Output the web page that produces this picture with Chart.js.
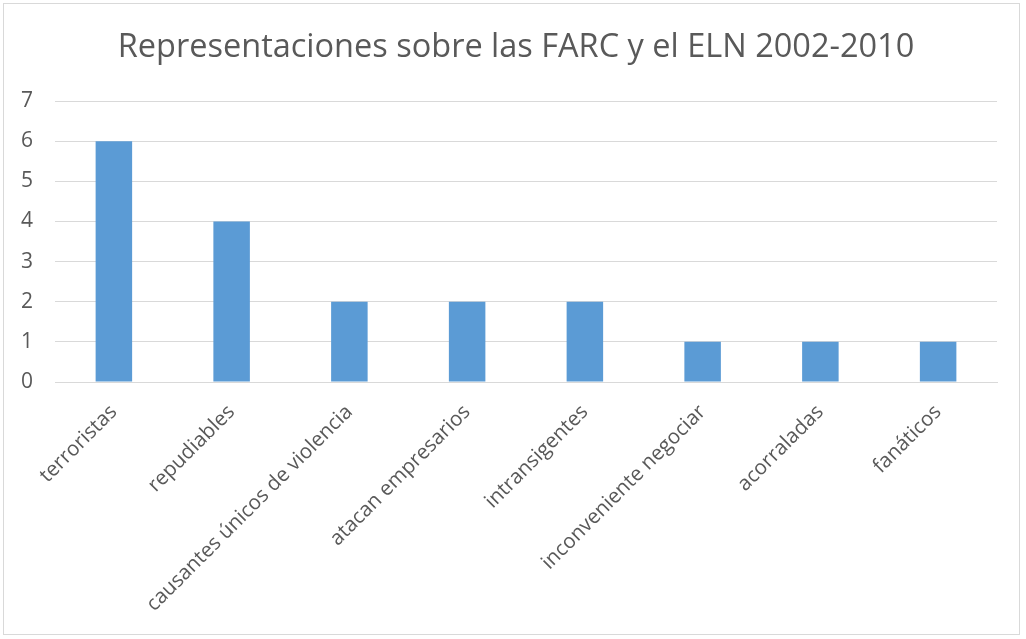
<!DOCTYPE html>
<html>
<head>
<meta charset="utf-8">
<script src="https://cdn.jsdelivr.net/npm/chart.js@4"></script>
<style>
  html, body { margin: 0; padding: 0; background: #fff; }
  #wrap { position: relative; width: 1026px; height: 639px; }
  #frame { position: absolute; left: 3px; top: 3px; width: 1017px; height: 632px; border: 1px solid #d9d9d9; box-sizing: border-box; pointer-events: none; }
  canvas { position: absolute; left: 0; top: 0; }
</style>
</head>
<body>
<div id="wrap">
  <canvas id="chart" width="1026" height="639"></canvas>
  <div id="frame"></div>
</div>
<script>
const categories = [
  'terroristas',
  'repudiables',
  'causantes únicos de violencia',
  'atacan empresarios',
  'intransigentes',
  'inconveniente negociar',
  'acorraladas',
  'fanáticos',
];
const counts = [6, 4, 2, 2, 2, 1, 1, 1];
const yTicks = [0, 1, 2, 3, 4, 5, 6, 7];

const textColor = '#595959';
const fontFamily = '"Open Sans", sans-serif';

const ctx = document.getElementById('chart').getContext('2d');

new Chart(ctx, {
  type: 'bar',
  data: {
    labels: categories,
    datasets: [
      {
        label: 'Representaciones',
        data: counts,
        backgroundColor: '#5b9bd5',
        borderWidth: 0,
        barPercentage: 0.31,
        categoryPercentage: 1,
      },
    ],
  },
  options: {
    responsive: false,
    animation: false,
    layout: {
      padding: { left: 35, right: 29, top: 0, bottom: 10 },
    },
    plugins: {
      legend: { display: false },
      tooltip: { enabled: false },
      title: {
        display: true,
        text: 'Representaciones sobre las FARC y el ELN 2002-2010',
        color: textColor,
        font: { family: fontFamily, size: 32.5, weight: 'normal' },
        padding: { top: 28, bottom: 34 },
      },
    },
    scales: {
      x: {
        grid: { display: false },
        border: { display: true, color: '#d9d9d9', width: 1 },
        ticks: {
          color: textColor,
          font: { family: fontFamily, size: 20.5 },
          autoSkip: false,
          maxRotation: 45,
          minRotation: 45,
          padding: 10,
        },
        afterFit: (scale) => { scale.height = 247; },
      },
      y: {
        min: 0,
        max: 7,
        afterBuildTicks: (scale) => {
          scale.ticks = yTicks.map((v) => ({ value: v }));
        },
        grid: { color: '#d9d9d9', drawTicks: false },
        border: { display: false },
        ticks: {
          color: textColor,
          font: { family: fontFamily, size: 21 },
          mirror: true,
          padding: -34,
        },
        afterFit: (scale) => { scale.width = 20; },
      },
    },
  },
});
</script>
</body>
</html>
